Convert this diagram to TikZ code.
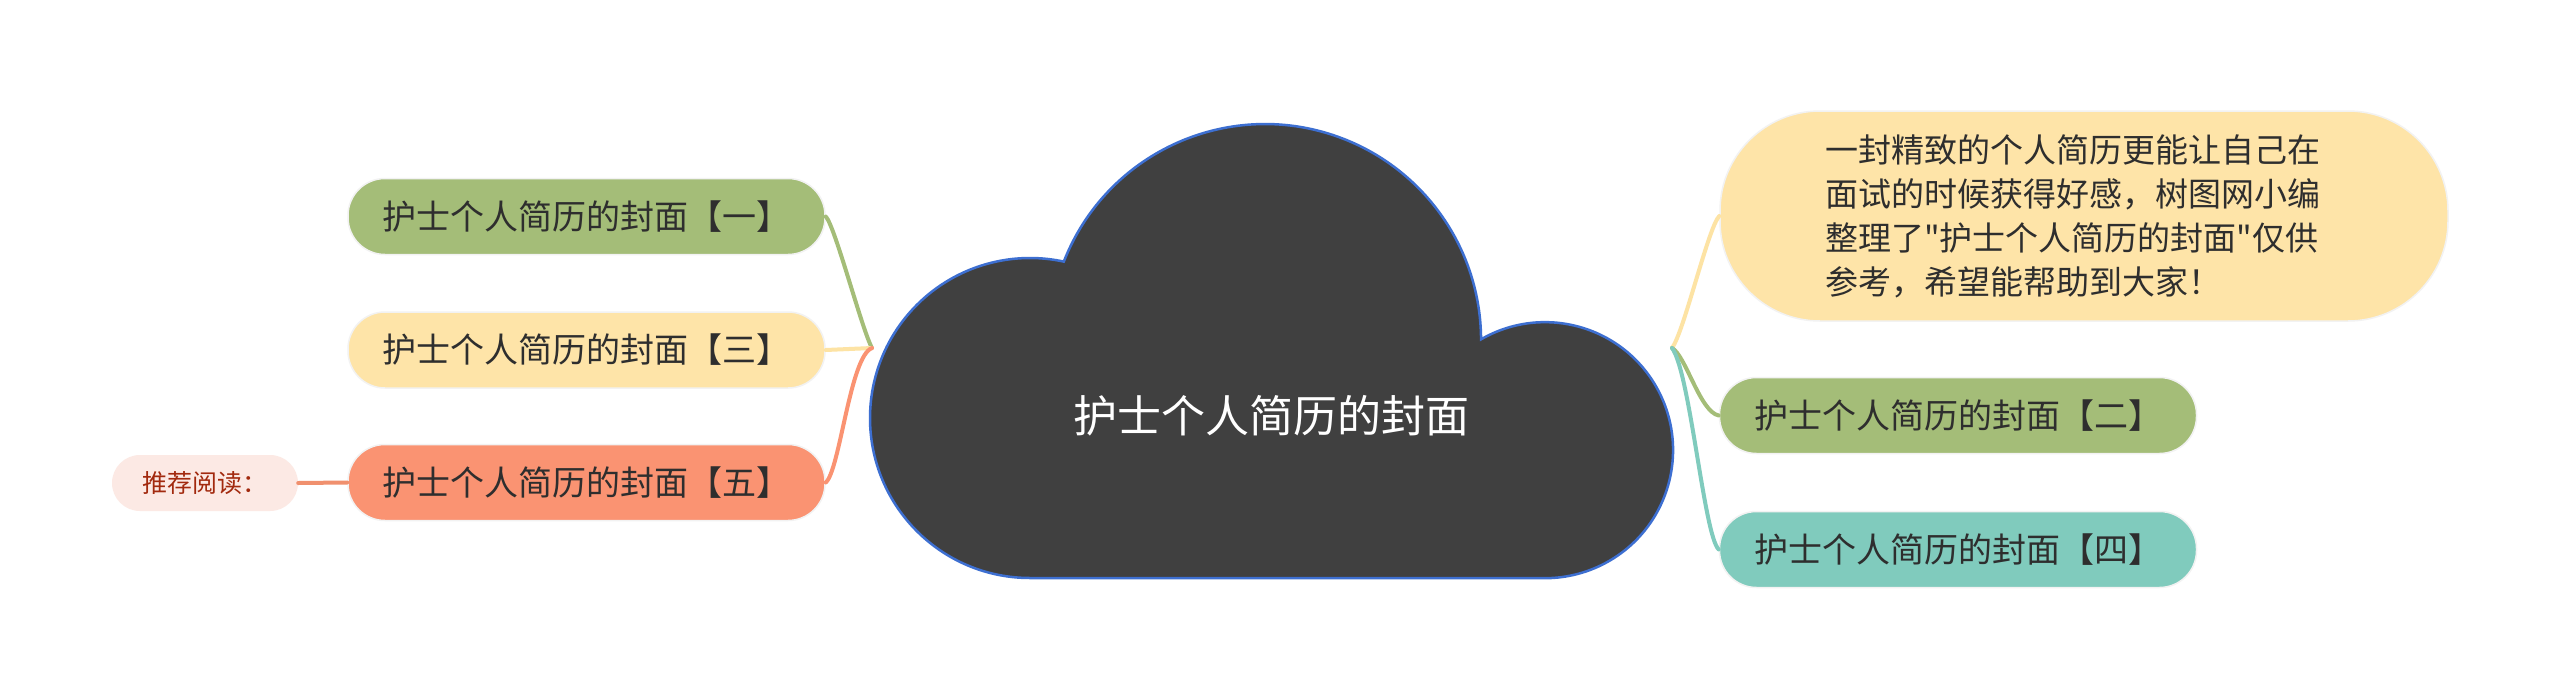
\documentclass[tikz,border=0pt]{standalone}
\usepackage{fontspec}
\newfontfamily\cjk{Noto Sans CJK SC}
\definecolor{cgreen}{HTML}{A4BD78}
\definecolor{cyellow}{HTML}{FEE4A8}
\definecolor{corange}{HTML}{FA9372}
\definecolor{cteal}{HTML}{80CBBD}
\definecolor{cpink}{HTML}{FCE9E4}
\definecolor{cred}{HTML}{A2290E}
\definecolor{txt}{HTML}{2E2E2E}
\definecolor{edgew}{HTML}{F2F2F2}
\definecolor{cloudfill}{HTML}{404040}
\definecolor{cloudline}{HTML}{3D6FD1}
\definecolor{lyellow}{HTML}{FDE3A4}
\definecolor{lorange}{HTML}{F0906E}
\begin{document}
\begin{tikzpicture}[x=1pt,y=1pt]
\tikzset{
  topic/.style={rectangle, rounded corners=37pt, minimum width=477pt, minimum height=76pt,
    inner sep=0pt, draw=edgew, line width=1.5pt, text=txt,
    font=\cjk\fontsize{34}{41}\selectfont},
  bigbox/.style={rectangle, rounded corners=100pt, minimum width=728pt, minimum height=210pt,
    inner sep=0pt, draw=edgew, line width=1.5pt, text=txt, fill=cyellow,
    text width=518pt, align=left, font=\cjk\fontsize{33}{44}\selectfont},
  recbox/.style={rectangle, rounded corners=28pt, minimum width=186pt, minimum height=56pt,
    inner sep=0pt, fill=cpink, text=cred, font=\cjk\fontsize{25}{30}\selectfont},
  link/.style={line width=4pt, line cap=round},
}
\useasboundingbox (0,0) rectangle (2560,-699);
\fill[white] (0,0) rectangle (2560,-699);

% cloud
\path[fill=cloudfill, draw=cloudline, line width=2.5pt]
  (1030,-578) arc[start angle=270, end angle=77.8, radius=160]
  arc[start angle=158.7, end angle=0.2, radius=216]
  arc[start angle=120, end angle=-90, radius=128] -- cycle;
\node[text=white, font=\cjk\fontsize{44}{52}\selectfont] (root) at (1271,-416) {护士个人简历的封面};

% junctions
\coordinate (J1) at (872,-348);
\coordinate (J2) at (1672,-348);

% left topics
\node[topic, fill=cgreen] (n1) at (586.5,-216.5) {护士个人简历的封面【一】};
\node[topic, fill=cyellow] (n3) at (586.5,-350) {护士个人简历的封面【三】};
\node[topic, fill=corange] (n5) at (586.5,-482.5) {护士个人简历的封面【五】};
\node[recbox] (rec) at (205,-483) {推荐阅读：};

% right topics
\node[bigbox] (big) at (2084,-216) {一封精致的个人简历更能让自己在\\面试的时候获得好感，树图网小编\\整理了"护士个人简历的封面"仅供\\参考，希望能帮助到大家！};
\node[topic, fill=cgreen] (n2) at (1958,-415.5) {护士个人简历的封面【二】};
\node[topic, fill=cteal] (n4) at (1958,-549.5) {护士个人简历的封面【四】};

% connectors
\draw[link, cgreen] (n1.east) .. controls (835,-226) and (862,-330) .. (J1);
\draw[link, lyellow] (n3.east) -- (J1);
\draw[link, corange] (n5.east) .. controls (840,-470) and (850,-356) .. (J1);
\draw[link, lorange] (rec.east) -- (n5.west);

\draw[link, lyellow] (J2) .. controls (1684,-332) and (1708,-228) .. (big.west);
\draw[link, cgreen] (J2) .. controls (1686,-356) and (1700,-412) .. (n2.west);
\draw[link, cteal] (J2) .. controls (1690,-372) and (1704,-536) .. (n4.west);
\end{tikzpicture}
\end{document}
